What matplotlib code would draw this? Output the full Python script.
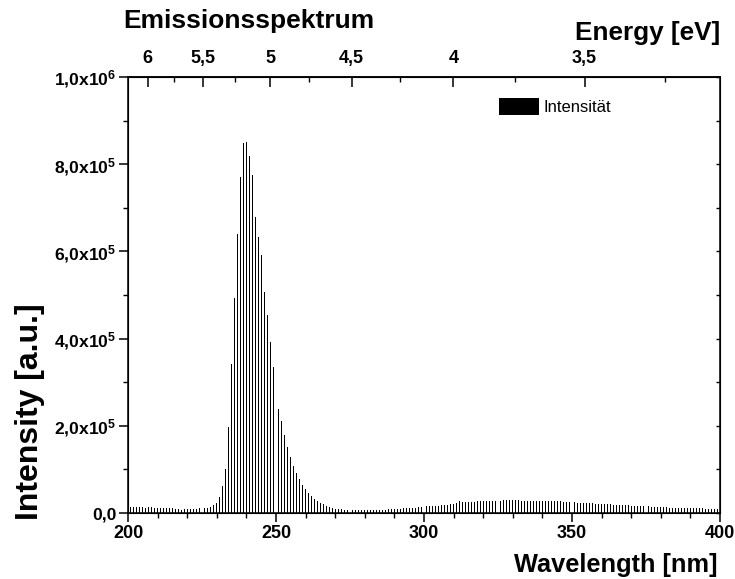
import numpy as np
import matplotlib
matplotlib.use("Agg")
import matplotlib.pyplot as plt
from matplotlib.ticker import FuncFormatter, MultipleLocator, FixedLocator

plt.rcParams['font.family'] = ['Liberation Sans', 'DejaVu Sans']
plt.rcParams['mathtext.fontset'] = 'custom'
plt.rcParams['mathtext.rm'] = 'Liberation Sans:bold'
plt.rcParams['mathtext.it'] = 'Liberation Sans:bold'
plt.rcParams['mathtext.bf'] = 'Liberation Sans:bold'
plt.rcParams['mathtext.default'] = 'rm'

# ---- data ----
wavelength = np.arange(200, 401)  # nm, 1 nm steps
intensity = [
    # 200-209
    14000, 14000, 13500, 14000, 14000, 13000, 12500, 13000, 13000, 12500,
    # 210-219
    12000, 12000, 11500, 11000, 10500, 10500, 10000, 9000, 7500, 8500,
    # 220-229
    8500, 9000, 9000, 10000, 10500, 11000, 12000, 12500, 14500, 17500,
    # 230-239
    24000, 37000, 62000, 100000, 198000, 342000, 494000, 639000, 771000, 848000,
    # 240-249
    851000, 819000, 775000, 680000, 633000, 591000, 508000, 455000, 393000, 335000,
    # 250-259
    285000, 238000, 212000, 178000, 151000, 129000, 107000, 91000, 77000, 64000,
    # 260-269
    54000, 46000, 39000, 33000, 28500, 24000, 20000, 16500, 13500, 11500,
    # 270-279
    10000, 9000, 8500, 8000, 7500, 7500, 7500, 7500, 7000, 7000,
    # 280-289
    7000, 7000, 7000, 7000, 7500, 7500, 7500, 8000, 8500, 8500,
    # 290-299
    9000, 9500, 10000, 10500, 11000, 11500, 12000, 12500, 13000, 13500,
    # 300-309
    14500, 15000, 15500, 16000, 16500, 17000, 17500, 18500, 19000, 19500,
    # 310-319
    20500, 22000, 26500, 25000, 25000, 25500, 25500, 26000, 26500, 26500,
    # 320-329
    27000, 27500, 27500, 28000, 28000, 28500, 28500, 29000, 29000, 29000,
    # 330-339
    29000, 29000, 29000, 28500, 28500, 28500, 28500, 28500, 28000, 28000,
    # 340-349
    28000, 27500, 27500, 27000, 27000, 26500, 26500, 26000, 25500, 25000,
    # 350-359
    25000, 24500, 24000, 23500, 23000, 22500, 22000, 22000, 21500, 21000,
    # 360-369
    20500, 20000, 20000, 19500, 19000, 19000, 18500, 18000, 18000, 17500,
    # 370-379
    17000, 17000, 16500, 16000, 15500, 15500, 15000, 14500, 14500, 14000,
    # 380-389
    13500, 13000, 13000, 12500, 12500, 12000, 12000, 12000, 11500, 11500,
    # 390-399
    11000, 11000, 11000, 10500, 10500, 10000, 10000, 9500, 9500, 9000,
    # 400
    9000,
]
series_label = "Intensität"
energy_ticks = [6, 5.5, 5, 4.5, 4, 3.5]
energy_minor = [5.75, 5.25, 4.75, 4.25, 3.75, 3.25]
y_ticks = [0, 2e5, 4e5, 6e5, 8e5, 1e6]

HC = 1239.84

fig = plt.figure(figsize=(7.35, 5.79), dpi=100)
ax = fig.add_axes([128/735, 1-513/579, 592/735, 436/579])

ax.bar(wavelength, intensity, width=0.32, color='black', linewidth=0,
       snap=True, label=series_label)

ax.set_xlim(200, 400)
ax.set_ylim(0, 1e6)

# bottom axis
ax.xaxis.set_major_locator(MultipleLocator(50))
ax.xaxis.set_minor_locator(MultipleLocator(10))
ax.yaxis.set_major_locator(FixedLocator(y_ticks))
ax.yaxis.set_minor_locator(MultipleLocator(1e5))

def yfmt(v, pos):
    if v == 0:
        return "0,0"
    e = int(np.floor(np.log10(v) + 1e-9))
    m = v / 10**e
    return ("%.1f" % m).replace('.', ',') + "x10$^{%d}$" % e

ax.yaxis.set_major_formatter(FuncFormatter(yfmt))

for sp in ax.spines.values():
    sp.set_linewidth(1.1)

ax.tick_params(axis='x', which='major', direction='out', length=6.5, width=1.1,
               labelsize=13, pad=2, top=False)
ax.tick_params(axis='x', which='minor', direction='out', length=3.5, width=1.0, top=False)
ax.tick_params(axis='y', which='major', direction='out', length=6.5, width=1.1,
               labelsize=12.6, pad=2, right=False)
ax.tick_params(axis='y', which='minor', direction='out', length=3.5, width=1.0, right=False)
for lbl in ax.get_xticklabels() + ax.get_yticklabels():
    lbl.set_fontweight('bold')

# right side ticks pointing inward
ax2 = ax.twinx()
ax2.set_ylim(0, 1e6)
ax2.yaxis.set_major_locator(FixedLocator(y_ticks))
ax2.yaxis.set_minor_locator(MultipleLocator(1e5))
ax2.tick_params(axis='y', which='both', direction='in', length=3, width=1.0,
                labelright=False)

# top energy axis
def w2e(w):
    w = np.asarray(w, dtype=float)
    with np.errstate(divide='ignore'):
        return HC / w
def e2w(e):
    e = np.asarray(e, dtype=float)
    with np.errstate(divide='ignore'):
        return HC / e

sec = ax.secondary_xaxis('top', functions=(w2e, e2w))
sec.set_xticks(energy_ticks)
sec.set_xticks(energy_minor, minor=True)
sec.set_xticklabels([("%g" % t).replace('.', ',') for t in energy_ticks],
                    fontweight='bold', fontsize=13)
sec.tick_params(axis='x', which='major', direction='in', length=7, width=1.1, pad=7.5)
sec.tick_params(axis='x', which='minor', direction='in', length=3.5, width=1.0)
sec.spines['top'].set_linewidth(1.1)

leg = ax.legend(loc='upper left', bbox_to_anchor=(0.615, 0.967), frameon=False,
                fontsize=12, handlelength=2.4, handleheight=1.15, handletextpad=0.3,
                borderaxespad=0)

fig.text(123/735, 1-28/579, "Emissionsspektrum", fontsize=19, fontweight='bold',
         ha='left', va='baseline')
fig.text(720/735, 1-40/579, "Energy [eV]", fontsize=18.8, fontweight='bold',
         ha='right', va='baseline')
fig.text(717/735, 1-572/579, "Wavelength [nm]", fontsize=18.3, fontweight='bold',
         ha='right', va='baseline')
fig.text(38/735, 1-520/579, "Intensity [a.u.]", fontsize=23, fontweight='bold',
         ha='left', va='baseline', rotation=90, rotation_mode='anchor')

fig.savefig("out.png", dpi=100)
